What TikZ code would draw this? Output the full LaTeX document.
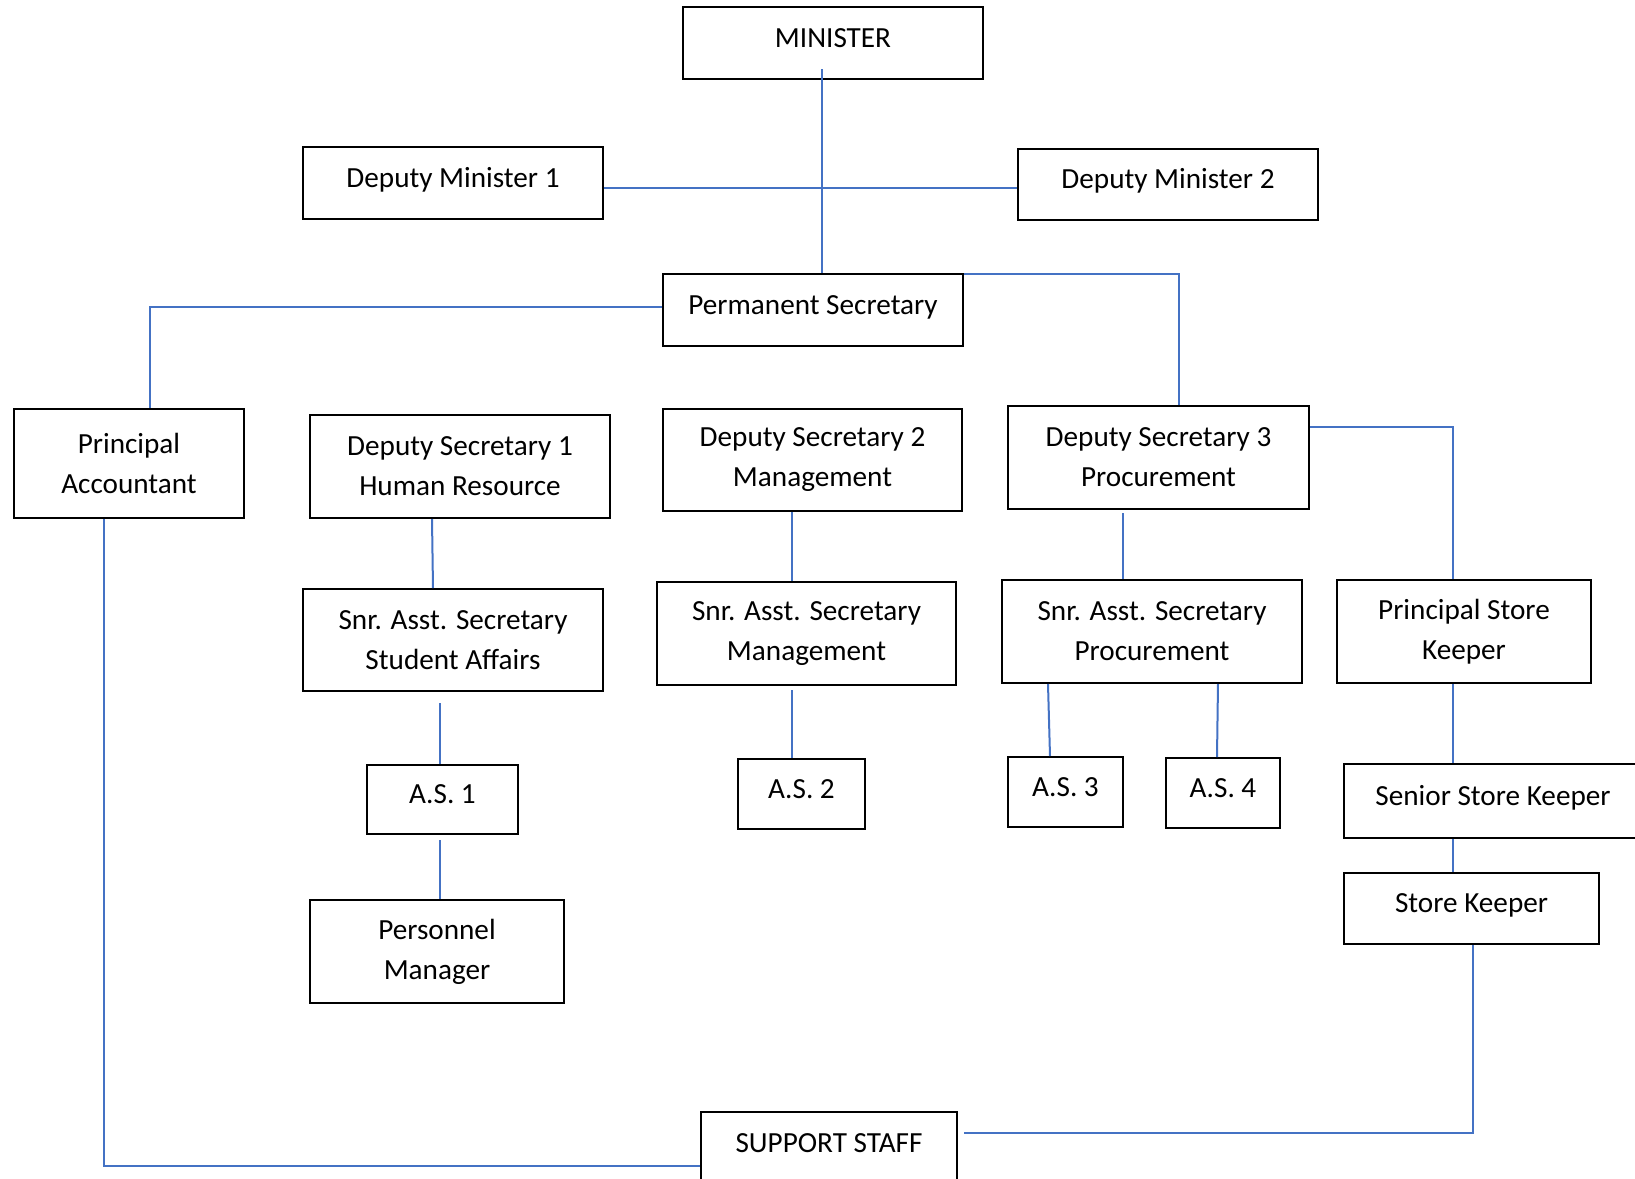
\documentclass[tikz,border=0pt]{standalone}
\usepackage{fontspec}
\setmainfont{Carlito}
\usepackage{tikz}
\definecolor{linkblue}{HTML}{4472C4}

\begin{document}
\begin{tikzpicture}[x=0.5pt,y=-0.5pt,
					every node/.style = {font=\fontsize{14.6}{20}\selectfont}]

\tikzstyle{office_box} = [rectangle, draw, line width=1pt, inner sep=0pt, align=center]
\tikzstyle{one_line} = [office_box, text height=9.5pt, text depth=5.1pt]
\tikzstyle{link_line} = [draw=linkblue, line width=1pt]

\useasboundingbox (0,0) rectangle (1635,1179);

\node[one_line, minimum width=150pt, minimum height=36pt] (minister) at (833,43) {MINISTER};
\node[one_line, minimum width=150pt, minimum height=36pt] (dm1) at (453,183) {Deputy Minister 1};
\node[one_line, minimum width=150pt, minimum height=35.5pt] (dm2) at (1168,184.5) {Deputy Minister 2};
\node[one_line, minimum width=150pt, minimum height=36pt] (ps) at (813,310) {Permanent Secretary};

\node[office_box, minimum width=115pt, minimum height=54.5pt] (pa) at (129,463.5) {Principal\\Accountant};
\node[office_box, minimum width=150pt, minimum height=51.5pt] (ds1) at (460,466.5) {Deputy Secretary 1\\Human Resource};
\node[office_box, minimum width=149.5pt, minimum height=51pt] (ds2) at (812.5,460) {Deputy Secretary 2\\Management};
\node[office_box, minimum width=150.5pt, minimum height=51.5pt] (ds3) at (1158.5,457.5) {Deputy Secretary 3\\Procurement};

\node[office_box, minimum width=150pt, minimum height=51pt] (sas1) at (453,640) {Snr. Asst. Secretary\\Student Affairs};
\node[office_box, minimum width=149.5pt, minimum height=51.5pt] (sas2) at (806.5,633.5) {Snr. Asst. Secretary\\Management};
\node[office_box, minimum width=150pt, minimum height=51.5pt] (sas3) at (1152,631.5) {Snr. Asst. Secretary\\Procurement};
\node[office_box, minimum width=127pt, minimum height=51.5pt] (psk) at (1464,631.5) {Principal Store\\Keeper};

\node[one_line, minimum width=75.5pt, minimum height=34.5pt] (as1) at (442.5,799.5) {A.S. 1};
\node[one_line, minimum width=63.5pt, minimum height=35pt] (as2) at (801.5,794) {A.S. 2};
\node[one_line, minimum width=57.5pt, minimum height=35pt] (as3) at (1065.5,792) {A.S. 3};
\node[one_line, minimum width=57pt, minimum height=35pt] (as4) at (1223,793) {A.S. 4};
\node[one_line, minimum width=149pt, minimum height=37pt] (ssk) at (1493,801) {Senior Store Keeper};
\node[one_line, minimum width=127.5pt, minimum height=35.5pt] (sk) at (1471.5,908.5) {Store Keeper};
\node[office_box, minimum width=127pt, minimum height=51.5pt] (pm) at (437,951.5) {Personnel\\Manager};
\node[one_line, minimum width=128pt, minimum height=36pt] (ss) at (829,1148) {SUPPORT STAFF};

\draw[link_line] ([shift={(-11,-11)}]minister.south) coordinate (mtop) -- (mtop |- ps.north);
\draw[link_line] ([shift={(0,5)}]dm1.east) coordinate (dmrow) -- (dmrow -| dm2.west);
\draw[link_line] ([shift={(0,-3)}]ps.west) -| ([shift={(21,0)}]pa.north);
\draw[link_line] ([shift={(0,1)}]ps.north east) -| ([shift={(20.5,0)}]ds3.north);
\draw[link_line] ([shift={(0,22)}]ds3.north east) -| ([shift={(-11.5,0)}]psk.north);

\draw[link_line] ([shift={(-28,0)}]ds1.south) -- ([shift={(-20,0)}]sas1.north);
\draw[link_line] ([shift={(-13,11)}]sas1.south) -- ([shift={(-2.5,0)}]as1.north);
\draw[link_line] ([shift={(-2.5,5)}]as1.south) -- ([shift={(3,0)}]pm.north);

\draw[link_line] ([shift={(-21,0)}]ds2.south) -- ([shift={(-15,0)}]sas2.north);
\draw[link_line] ([shift={(-15,4)}]sas2.south) -- ([shift={(-10,0)}]as2.north);

\draw[link_line] ([shift={(-35.5,3)}]ds3.south) coordinate (dsdown) -- (dsdown |- sas3.north);
\draw[link_line] ([shift={(47,0)}]sas3.south west) -- ([shift={(-15.5,0)}]as3.north);
\draw[link_line] ([shift={(-85,0)}]sas3.south east) -- ([shift={(-6,0)}]as4.north);

\draw[link_line] ([shift={(-11.5,0)}]psk.south) -- ([shift={(-40.5,0)}]ssk.north);
\draw[link_line] ([shift={(-40,0)}]ssk.south) -- ([shift={(-18.5,0)}]sk.north);

\draw[link_line] ([shift={(-25,0)}]pa.south) |- ([shift={(0,18)}]ss.west);
\draw[link_line] ([shift={(1.5,0)}]sk.south) |- ([shift={(6,-15)}]ss.east);
\end{tikzpicture}
\end{document}
